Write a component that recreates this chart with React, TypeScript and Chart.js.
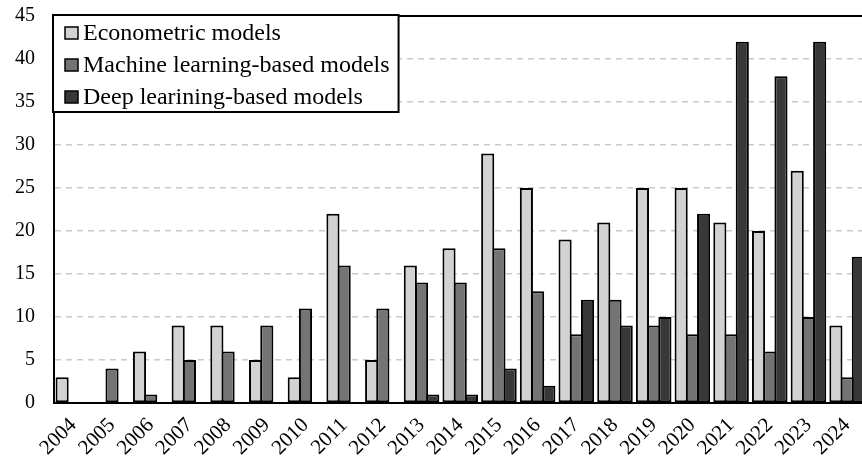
import React, { useEffect, useRef } from "react";
import { Chart, registerables } from "chart.js";

Chart.register(...registerables);

const years = ["2004","2005","2006","2007","2008","2009","2010","2011","2012","2013","2014","2015","2016","2017","2018","2019","2020","2021","2022","2023","2024"];
const econometric = [3,0,6,9,9,5,3,22,5,16,18,29,25,19,21,25,25,21,20,27,9];
const machineLearning = [0,4,1,5,6,9,11,16,11,14,14,18,13,8,12,9,8,8,6,10,3];
const deepLearning = [0,0,0,0,0,0,0,0,0,1,1,4,2,12,9,10,22,42,38,42,17];
const seriesLabels = ["Econometric models", "Machine learning-based models", "Deep learining-based models"];
const seriesColors = ["#d2d2d2", "#747474", "#383838"];
const yMin = 0;
const yMax = 45;
const yStep = 5;

const FONT = '"Liberation Serif", "Times New Roman", serif';

const frameAndLegend = {
  id: "frameAndLegend",
  afterDraw(chart: any) {
    const { ctx, chartArea } = chart;
    ctx.save();
    ctx.strokeStyle = "#000";
    ctx.lineWidth = 2;
    ctx.beginPath();
    ctx.moveTo(chartArea.left, chartArea.top);
    ctx.lineTo(chartArea.right, chartArea.top);
    ctx.stroke();

    ctx.font = `24px ${FONT}`;
    const items = chart.data.datasets.map((d: any) => ({ label: d.label, color: d.backgroundColor }));
    const maxW = Math.max(...items.map((i: any) => ctx.measureText(i.label).width));
    const padL = 12, sq = 13, gap = 5, rowH = 32;
    const x0 = chartArea.left - 1;
    const y0 = chartArea.top - 1;
    const w = padL + sq + gap + maxW + 9;
    const h = rowH * items.length + 1;
    ctx.fillStyle = "#fff";
    ctx.fillRect(x0, y0, w, h);
    ctx.lineWidth = 2;
    ctx.strokeStyle = "#000";
    ctx.strokeRect(x0, y0, w, h);
    items.forEach((it: any, i: number) => {
      const base = y0 + 25 + i * rowH;
      ctx.fillStyle = it.color;
      ctx.fillRect(x0 + padL, base - 13, sq, 12);
      ctx.lineWidth = 1.5;
      ctx.strokeStyle = "#000";
      ctx.strokeRect(x0 + padL, base - 13, sq, 12);
      ctx.fillStyle = "#000";
      ctx.textBaseline = "alphabetic";
      ctx.textAlign = "left";
      ctx.fillText(it.label, x0 + padL + sq + gap, base);
    });
    ctx.restore();
  },
};

export default function App() {
  const ref = useRef<HTMLCanvasElement | null>(null);

  useEffect(() => {
    if (!ref.current) return;
    Chart.defaults.font.family = FONT;
    Chart.defaults.color = "#000";
    const data = [econometric, machineLearning, deepLearning];
    const chart = new Chart(ref.current, {
      type: "bar",
      data: {
        labels: years,
        datasets: data.map((d, i) => ({
          label: seriesLabels[i],
          data: d,
          backgroundColor: seriesColors[i],
          borderColor: "#000",
          borderWidth: (c: any) => (c.raw === 0 ? 0 : 2),
          borderSkipped: false,
          categoryPercentage: 0.87,
          barPercentage: 1.17,
        })),
      },
      options: {
        animation: false,
        responsive: false,
        layout: { padding: { top: 16, right: 2, left: 0, bottom: 0 } },
        plugins: { legend: { display: false }, tooltip: { enabled: false } },
        scales: {
          x: {
            grid: { display: false, drawTicks: false },
            border: { display: true, color: "#000", width: 2 },
            ticks: {
              font: { size: 21, family: FONT },
              color: "#000",
              maxRotation: 45,
              minRotation: 45,
              padding: 10,
              autoSkip: false,
            },
            afterFit: (s: any) => { s.height = 61; },
          },
          y: {
            min: yMin,
            max: yMax,
            grid: {
              drawTicks: true,
              tickLength: 17,
              tickColor: "rgba(0,0,0,0)",
              lineWidth: 1.5,
              color: (c: any) => (c.tick && (c.tick.value === yMin || c.tick.value === yMax) ? "rgba(0,0,0,0)" : "#cacaca"),
            },
            border: { display: true, color: "#000", width: 2, dash: [6, 5] },
            ticks: {
              stepSize: yStep,
              font: { size: 20, family: FONT },
              color: "#000",
              padding: 2,
            },
            afterFit: (s: any) => { s.width = 54; },
          },
        },
      },
      plugins: [frameAndLegend],
    });
    return () => chart.destroy();
  }, []);

  return (
    <div style={{ position: "fixed", left: 0, top: 0, width: 862, height: 464, overflow: "hidden", background: "#fff" }}>
      <canvas ref={ref} width={875} height={464} style={{ display: "block" }} />
    </div>
  );
}
